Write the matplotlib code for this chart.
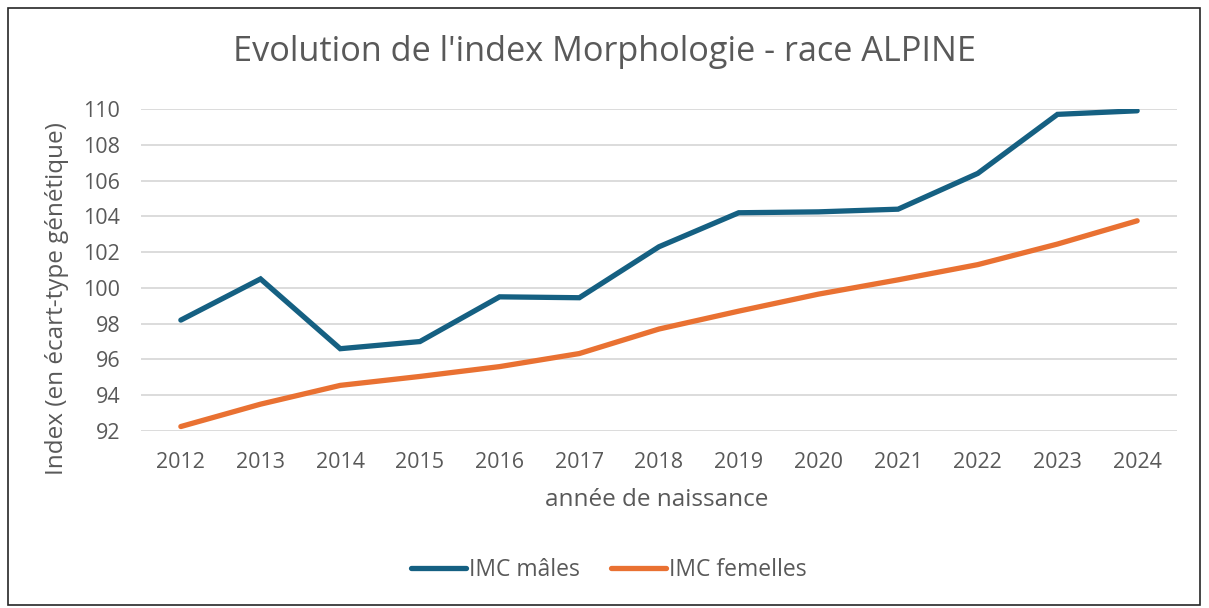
import matplotlib
matplotlib.use("Agg")
import matplotlib.pyplot as plt
from matplotlib.patches import Rectangle
from matplotlib.lines import Line2D

years = [2012, 2013, 2014, 2015, 2016, 2017, 2018, 2019, 2020, 2021, 2022, 2023, 2024]
males = [98.2, 100.5, 96.6, 97.0, 99.5, 99.45, 102.3, 104.2, 104.25, 104.4, 106.4, 109.7, 109.9]
females = [92.25, 93.5, 94.55, 95.05, 95.6, 96.33, 97.7, 98.7, 99.65, 100.45, 101.3, 102.45, 103.75]
yticks = [92, 94, 96, 98, 100, 102, 104, 106, 108, 110]

title = "Evolution de l'index Morphologie - race ALPINE"
xlabel = "année de naissance"
ylabel = "Index (en écart-type génétique)"
labels = ["IMC mâles", "IMC femelles"]

plt.rcParams['font.family'] = ['Open Sans', 'DejaVu Sans']
txt = '#595959'
blue = '#156082'
orange = '#E97132'

W, H = 1209, 608
fig = plt.figure(figsize=(W / 100, H / 100), dpi=100)
fig.patch.set_facecolor('white')
fig.patches.append(Rectangle((8 / W, 3 / H), 1192 / W, 597 / H, transform=fig.transFigure,
                             fill=False, edgecolor='#262626', linewidth=1.2))

ax = fig.add_axes([141 / W, 1 - 431 / H, (1177 - 141) / W, (431 - 109) / H])
x = list(range(len(years)))
ax.plot(x, males, color=blue, lw=3.8, solid_capstyle='round', solid_joinstyle='miter', label=labels[0], zorder=3)
ax.plot(x, females, color=orange, lw=3.8, solid_capstyle='round', solid_joinstyle='miter', label=labels[1], zorder=3)

ax.set_xlim(-0.5, len(years) - 0.5)
ax.set_ylim(92, 110)
ax.set_yticks(yticks)
ax.set_xticks(x)
ax.set_xticklabels([str(y) for y in years])
ax.grid(axis='y', color='#D9D9D9', lw=1.3, zorder=0)
for s in ax.spines.values():
    s.set_visible(False)
ax.tick_params(length=0, labelsize=15.5, colors=txt)
ax.tick_params(axis='x', pad=15)
ax.tick_params(axis='y', pad=15)

fig.text(657 / W, 1 - 500 / H, xlabel, ha='center', va='center', fontsize=17.5, color=txt)
fig.text(57 / W, 1 - 299 / H, ylabel, ha='center', va='center', rotation=90, fontsize=17.5, color=txt)
fig.text(605 / W, 1 - 52 / H, title, ha='center', va='center', fontsize=24.7, color=txt)

handles = [Line2D([0], [0], color=blue, lw=3.8, solid_capstyle='round'),
           Line2D([0], [0], color=orange, lw=3.8, solid_capstyle='round')]
fig.legend(handles, labels, loc='center', bbox_to_anchor=(609 / W, 1 - 570 / H), ncol=2,
           frameon=False, fontsize=16.5, labelcolor=txt, handlelength=2.4, handletextpad=0.13,
           columnspacing=1.35)

fig.savefig('out.png', dpi=100, facecolor='white')
